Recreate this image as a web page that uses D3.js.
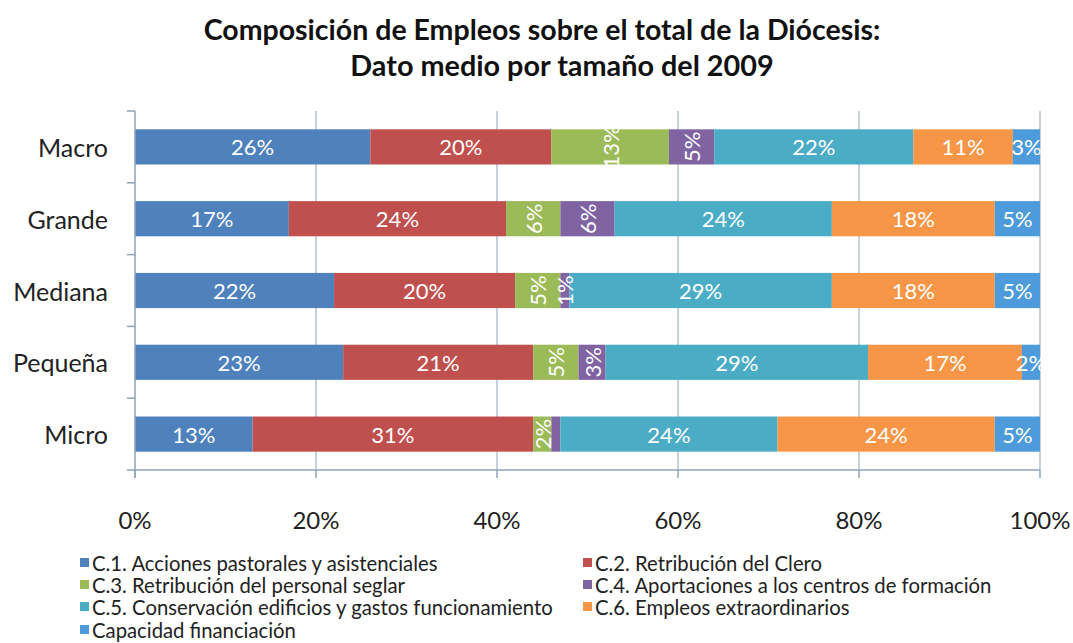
<!DOCTYPE html>
<html><head><meta charset="utf-8">
<script src="https://cdn.jsdelivr.net/npm/d3@7"></script>
<style>body{margin:0;background:#fff}svg{display:block}</style>
</head><body><svg id="c" width="1073" height="643"></svg>
<script>
const categories = ["Macro","Grande","Mediana","Pequeña","Micro"];
const seriesNames = ["C.1. Acciones pastorales y asistenciales","C.2. Retribución del Clero","C.3. Retribución del personal seglar","C.4. Aportaciones a los centros de formación","C.5. Conservación edificios y gastos funcionamiento","C.6. Empleos extraordinarios","Capacidad financiación"];
const colors = ["#4F81BD","#C0504D","#9BBB59","#8064A2","#4BACC6","#F79646","#4E9BDC"];
// values per series, in category order
const c1 = [26,17,22,23,13];
const c2 = [20,24,20,21,31];
const c3 = [13,6,5,5,2];
const c4 = [5,6,1,3,1];
const c5 = [22,24,29,29,24];
const c6 = [11,18,18,17,24];
const cap = [3,5,5,2,5];
const seriesValues = [c1,c2,c3,c4,c5,c6,cap];
const rotatedSeries = [2,3];
const hiddenLabels = [[3,4]]; // [series, category]
const xTicks = [0,20,40,60,80,100];
const titleLines = ["Composición de Empleos sobre el total de la Diócesis:","Dato medio por tamaño del 2009"];

const FONT = "Lato, 'Open Sans', sans-serif";
const svg = d3.select("#c");
const x = d3.scaleLinear().domain([0,100]).range([135,1040]);
const y = d3.scaleBand().domain(categories).range([111,470]).paddingInner(0.51).paddingOuter(0.255);
const yb = d3.scaleBand().domain(categories).range([111,470]);

// title
svg.append("text").attr("x",542).attr("y",40).attr("text-anchor","middle")
  .attr("font-family",FONT).attr("font-weight","bold").attr("font-size",28.5).attr("fill","#111").text(titleLines[0]);
svg.append("text").attr("x",562).attr("y",76).attr("text-anchor","middle")
  .attr("font-family",FONT).attr("font-weight","bold").attr("font-size",28.8).attr("fill","#111").text(titleLines[1]);

const gridColor = "#A9B9CA";
svg.append("g").selectAll("line").data(xTicks.slice(1)).join("line")
  .attr("x1",d=>x(d)).attr("x2",d=>x(d)).attr("y1",111).attr("y2",470)
  .attr("stroke",gridColor).attr("stroke-width",1.3);

// bars
const stack = [];
categories.forEach((c,ci)=>{
  let acc=0;
  seriesValues.forEach((vals,si)=>{
    stack.push({c,ci,si,x0:acc,x1:acc+vals[ci],v:vals[ci]});
    acc+=vals[ci];
  });
});
svg.append("g").selectAll("rect").data(stack).join("rect")
  .attr("x",d=>x(d.x0)).attr("width",d=>x(d.x1)-x(d.x0))
  .attr("y",d=>y(d.c)).attr("height",y.bandwidth())
  .attr("fill",d=>colors[d.si]);

// labels
const lbl = svg.append("g").attr("font-family",FONT).attr("font-size",22).attr("fill","#fff");
stack.filter(d=>!hiddenLabels.some(h=>h[0]===d.si&&h[1]===d.ci)).forEach(d=>{
  const cx = (x(d.x0)+x(d.x1))/2, cy = y(d.c)+y.bandwidth()/2;
  const t = lbl.append("text").attr("text-anchor","middle").attr("dominant-baseline","central").text(d.v+"%");
  if(rotatedSeries.includes(d.si)) t.attr("transform",`translate(${cx},${cy}) rotate(-90)`);
  else t.attr("x",cx).attr("y",cy);
});

// axes
const axisColor = "#8FA3B8";
const ax = svg.append("g").attr("stroke",axisColor).attr("stroke-width",1.5);
ax.append("line").attr("x1",135).attr("x2",135).attr("y1",111).attr("y2",478);
ax.append("line").attr("x1",127).attr("x2",1040).attr("y1",470).attr("y2",470);
ax.selectAll(".yt").data(categories).join("line")
  .attr("x1",127).attr("x2",135).attr("y1",d=>yb(d)).attr("y2",d=>yb(d));
ax.selectAll(".xt").data(xTicks).join("line")
  .attr("x1",d=>x(d)).attr("x2",d=>x(d)).attr("y1",470).attr("y2",478);

// category labels
svg.append("g").selectAll("text").data(categories).join("text")
  .attr("x",108).attr("y",d=>y(d)+y.bandwidth()/2).attr("text-anchor","end").attr("dominant-baseline","central")
  .attr("font-family",FONT).attr("font-size",25).attr("fill","#222").text(d=>d);

// x tick labels
svg.append("g").selectAll("text").data(xTicks).join("text")
  .attr("x",d=>x(d)).attr("y",529).attr("text-anchor","middle")
  .attr("font-family",FONT).attr("font-size",24).attr("fill","#222").text(d=>d+"%");

// legend
const legPos = [[80,563],[583,563],[80,585],[583,585],[80,607],[583,607],[80,630]];
const leg = svg.append("g").attr("font-family",FONT).attr("font-size",20.3).attr("fill","#222");
seriesNames.forEach((n,i)=>{
  const [lx,ly]=legPos[i];
  leg.append("rect").attr("x",lx).attr("y",ly-5).attr("width",9).attr("height",9).attr("fill",colors[i]);
  leg.append("text").attr("x",lx+12).attr("y",ly).attr("dominant-baseline","central").text(n);
});
</script></body></html>
